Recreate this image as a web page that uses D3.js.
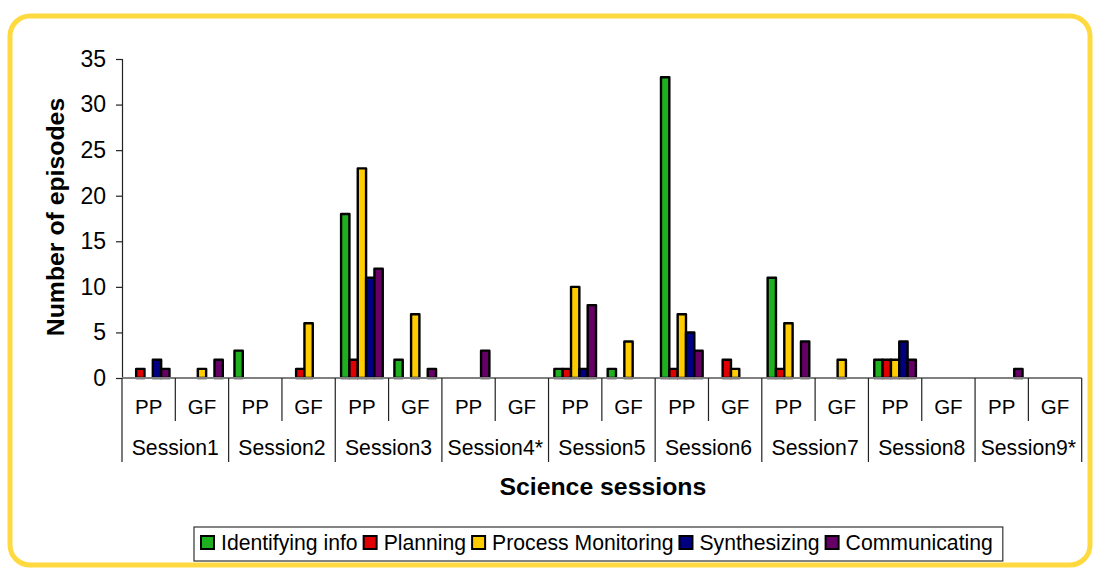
<!DOCTYPE html>
<html>
<head>
<meta charset="utf-8">
<script src="https://cdn.jsdelivr.net/npm/d3@7"></script>
<style>
  html, body { margin: 0; padding: 0; background: #ffffff; }
  svg { display: block; font-family: "Liberation Sans", Arial, sans-serif; }
</style>
</head>
<body>
<svg id="chart" width="1099" height="571"></svg>
<script>
// ---- data ----
const sessions = ["Session1", "Session2", "Session3", "Session4*", "Session5", "Session6", "Session7", "Session8", "Session9*"];
const conditions = ["PP", "GF"];
const seriesNames = ["Identifying info", "Planning", "Process Monitoring", "Synthesizing", "Communicating"];
const seriesColors = ["#1FB01F", "#E00000", "#FFCC00", "#000080", "#660066"];
// values in order Session1 PP, Session1 GF, Session2 PP, ...
const identifyingInfo    = [0, 0, 3, 0, 18, 2, 0, 0, 1, 1, 33, 0, 11, 0, 2, 0, 0, 0];
const planning           = [1, 0, 0, 1, 2, 0, 0, 0, 1, 0, 1, 2, 1, 0, 2, 0, 0, 0];
const processMonitoring  = [0, 1, 0, 6, 23, 7, 0, 0, 10, 4, 7, 1, 6, 2, 2, 0, 0, 0];
const synthesizing       = [2, 0, 0, 0, 11, 0, 0, 0, 1, 0, 5, 0, 0, 0, 4, 0, 0, 0];
const communicating      = [1, 2, 0, 0, 12, 1, 3, 0, 8, 0, 3, 0, 4, 0, 2, 0, 1, 0];
const yTicks = [0, 5, 10, 15, 20, 25, 30, 35];
const yTitle = "Number of episodes";
const xTitle = "Science sessions";

const seriesValues = [identifyingInfo, planning, processMonitoring, synthesizing, communicating];

// categories
const cats = [];
sessions.forEach((s, i) => conditions.forEach((c, j) => cats.push({ key: s + "|" + c, session: s, cond: c, si: i, idx: i * 2 + j })));

const svg = d3.select("#chart");
const font = '"Liberation Sans", Arial, sans-serif';

// yellow rounded frame
svg.append("rect")
  .attr("x", 10).attr("y", 16).attr("width", 1080).attr("height", 549)
  .attr("rx", 20).attr("ry", 20)
  .attr("fill", "#ffffff").attr("stroke", "#FFD940").attr("stroke-width", 5);

const plotLeft = 122, plotRight = 1081.7, plotTop = 59, plotBottom = 378;

const x0 = d3.scaleBand().domain(cats.map(d => d.key)).range([plotLeft, plotRight]).padding(0);
const x1 = d3.scaleBand().domain(seriesNames).range([0, x0.bandwidth()]).paddingInner(0).paddingOuter(0.7);
const y = d3.scaleLinear().domain([0, 35]).range([plotBottom, plotTop]);

// bars
const barData = [];
cats.forEach(c => {
  seriesNames.forEach((s, k) => {
    const v = seriesValues[k][c.idx];
    if (v > 0) barData.push({ cat: c.key, series: s, value: v, color: seriesColors[k] });
  });
});

svg.append("g").selectAll("rect").data(barData).join("rect")
  .attr("x", d => x0(d.cat) + x1(d.series))
  .attr("y", d => y(d.value))
  .attr("width", x1.bandwidth())
  .attr("height", d => y(0) - y(d.value))
  .attr("fill", d => d.color)
  .attr("stroke", "#000")
  .attr("stroke-width", 2.4)
  .attr("stroke-linejoin", "round");

// y axis
const yAxis = svg.append("g").attr("transform", `translate(${plotLeft},0)`)
  .call(d3.axisLeft(y).tickValues(yTicks).tickSize(6).tickPadding(10).tickFormat(d3.format("d")));
yAxis.select(".domain").attr("stroke", "#222").attr("stroke-width", 1.2);
yAxis.selectAll(".tick line").attr("stroke", "#222").attr("stroke-width", 1.2);
yAxis.selectAll(".tick text").attr("font-size", 23).attr("font-family", font).attr("fill", "#000");

// x axis baseline
svg.append("line")
  .attr("x1", plotLeft).attr("x2", plotRight)
  .attr("y1", y(0)).attr("y2", y(0))
  .attr("stroke", "#808080").attr("stroke-width", 2);

// hierarchical category axis
const xa = svg.append("g");
const edges = cats.map(c => x0(c.key)).concat([plotRight]);
edges.forEach((ex, i) => {
  const isSession = (i % 2 === 0);
  xa.append("line")
    .attr("x1", ex).attr("x2", ex)
    .attr("y1", y(0)).attr("y2", isSession ? 462 : 421)
    .attr("stroke", "#222").attr("stroke-width", 1.2);
});
xa.selectAll("text.cond").data(cats).join("text")
  .attr("class", "cond")
  .attr("x", d => x0(d.key) + x0.bandwidth() / 2)
  .attr("y", 414)
  .attr("text-anchor", "middle")
  .attr("font-size", 20.5).attr("font-family", font).attr("fill", "#000")
  .text(d => d.cond);
xa.selectAll("text.sess").data(sessions).join("text")
  .attr("class", "sess")
  .attr("x", (d, i) => x0(sessions[i] + "|PP") + x0.bandwidth())
  .attr("y", 455)
  .attr("text-anchor", "middle")
  .attr("font-size", 21.2).attr("font-family", font).attr("fill", "#000")
  .text(d => d);

// titles
svg.append("text")
  .attr("x", (plotLeft + plotRight) / 2 + 1).attr("y", 495)
  .attr("text-anchor", "middle")
  .attr("font-size", 24.8).attr("font-weight", "bold").attr("font-family", font)
  .text(xTitle);
svg.append("text")
  .attr("transform", `translate(64,217) rotate(-90)`)
  .attr("text-anchor", "middle")
  .attr("font-size", 24.8).attr("font-weight", "bold").attr("font-family", font)
  .text(yTitle);

// legend
const lg = svg.append("g");
const legendBox = lg.append("rect")
  .attr("x", 194).attr("y", 527).attr("width", 814).attr("height", 34)
  .attr("fill", "#fff").attr("stroke", "#333").attr("stroke-width", 1.2);
let lx = 200;
seriesNames.forEach((s, k) => {
  lg.append("rect")
    .attr("x", lx + 1).attr("y", 536).attr("width", 13).attr("height", 13)
    .attr("fill", seriesColors[k]).attr("stroke", "#000").attr("stroke-width", 2);
  const t = lg.append("text")
    .attr("x", lx + 21).attr("y", 549.5)
    .attr("font-size", 21.2).attr("font-family", font).attr("fill", "#000")
    .text(s);
  lx = lx + 21 + t.node().getComputedTextLength() + 5;
});
legendBox.attr("width", lx - 194 + 5);
</script>
</body>
</html>
